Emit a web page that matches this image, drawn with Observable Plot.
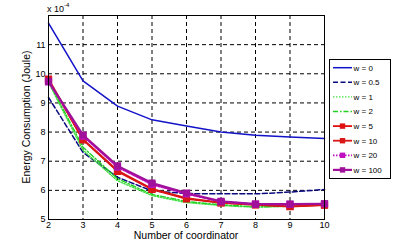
<!DOCTYPE html>
<html>
<head>
<meta charset="utf-8">
<script src="https://cdn.jsdelivr.net/npm/d3@7"></script>
<script src="https://cdn.jsdelivr.net/npm/@observablehq/plot@0.6"></script>
<style>
  html, body { margin: 0; padding: 0; background: #fff; }
  #chart { position: relative; width: 399px; height: 241px; }
  svg { font-family: "Liberation Sans", Arial, sans-serif; }
</style>
</head>
<body>
<div id="chart"></div>
<script>
// Number of coordinators
const coordinators = [2, 3, 4, 5, 6, 7, 8, 9, 10];
// Energy consumption (x 10^-4 Joule) per weight w
const w0   = [11.74, 9.76, 8.89, 8.42, 8.21, 8.00, 7.89, 7.83, 7.78];
const w05  = [9.19, 7.30, 6.45, 5.98, 5.89, 5.88, 5.88, 5.94, 6.03];
const w1   = [9.70, 7.38, 6.33, 5.82, 5.58, 5.48, 5.42, 5.45, 5.50];
const w2   = [9.75, 7.48, 6.40, 5.86, 5.62, 5.50, 5.44, 5.46, 5.51];
const w5   = [9.80, 7.73, 6.65, 6.03, 5.71, 5.57, 5.50, 5.44, 5.49];
const w10  = [9.82, 7.75, 6.68, 6.05, 5.73, 5.58, 5.51, 5.45, 5.50];
const w20  = [9.72, 7.86, 6.80, 6.20, 5.88, 5.61, 5.53, 5.52, 5.54];
const w100 = [9.74, 7.90, 6.84, 6.25, 5.91, 5.62, 5.53, 5.53, 5.54];
const yTicks = [5, 6, 7, 8, 9, 10, 11];
const seriesNames = ["w = 0", "w = 0.5", "w = 1", "w = 2", "w = 5", "w = 10", "w = 20", "w = 100"];
const seriesValues = [w0, w05, w1, w2, w5, w10, w20, w100];

const styles = {
  "w = 0":   {stroke: "#1212c8", width: 1.5, dash: null,      marker: false},
  "w = 0.5": {stroke: "#0a0a80", width: 1.5, dash: "5,2.5",   marker: false},
  "w = 1":   {stroke: "#44e044", width: 1.4, dash: "1.5,1.5", marker: false},
  "w = 2":   {stroke: "#22d022", width: 1.4, dash: "5,2,1.5,2", marker: false},
  "w = 5":   {stroke: "#e01010", width: 1.8, dash: null,      marker: true},
  "w = 10":  {stroke: "#d81818", width: 1.8, dash: null,      marker: true},
  "w = 20":  {stroke: "#c010c0", width: 1.8, dash: "1.5,1.5", marker: true},
  "w = 100": {stroke: "#a0109a", width: 2.2, dash: null,      marker: true}
};

const rows = [];
seriesNames.forEach((name, i) => {
  coordinators.forEach((c, j) => rows.push({series: name, x: c, y: seriesValues[i][j]}));
});

const marks = [
  Plot.gridX(coordinators, {stroke: "#000", strokeOpacity: 1, strokeWidth: 1, strokeDasharray: "4,3"}),
  Plot.gridY(yTicks, {stroke: "#000", strokeOpacity: 1, strokeWidth: 1, strokeDasharray: "4,3"}),
  Plot.axisX(coordinators, {tickSize: 0, tickPadding: 2, fontSize: 9, label: null, tickFormat: d => String(d)}),
  Plot.axisY(yTicks, {tickSize: 0, tickPadding: 3, fontSize: 9, label: null, tickFormat: d => String(d)})
];
seriesNames.forEach(name => {
  const s = styles[name];
  const data = rows.filter(r => r.series === name);
  marks.push(Plot.line(data, {x: "x", y: "y", stroke: s.stroke, strokeWidth: s.width, strokeDasharray: s.dash || undefined}));
  if (s.marker) {
    marks.push(Plot.dot(data, {x: "x", y: "y", symbol: "square", r: 3.2, fill: s.stroke, stroke: s.stroke}));
  }
});
marks.push(Plot.frame({stroke: "#000", strokeWidth: 1}));

const chart = Plot.plot({
  width: 399,
  height: 241,
  marginLeft: 48,
  marginRight: 75,
  marginTop: 15,
  marginBottom: 22,
  style: {fontFamily: "'Liberation Sans', Arial, sans-serif", fontSize: "10px", color: "#000", background: "#fff"},
  x: {domain: [2, 10]},
  y: {domain: [5, 12]},
  marks
});

const svg = d3.select(chart);
// axis titles
svg.append("text")
  .attr("x", 186).attr("y", 239)
  .attr("text-anchor", "middle")
  .attr("font-size", 10.5).attr("fill", "#000")
  .text("Number of coordinator");
svg.append("text")
  .attr("transform", "translate(30,117) rotate(-90)")
  .attr("text-anchor", "middle")
  .attr("font-size", 10.5).attr("fill", "#000")
  .text("Energy Consumption (Joule)");
const exp = svg.append("text").attr("x", 47).attr("y", 12).attr("text-anchor", "start")
  .attr("font-size", 9).attr("fill", "#000");
exp.append("tspan").text("x 10");
exp.append("tspan").attr("dy", -5).attr("font-size", 6).text("-4");

// legend
const lg = svg.append("g").attr("text-anchor", "start");
lg.append("rect").attr("x", 329.5).attr("y", 59.5).attr("width", 61).attr("height", 119)
  .attr("fill", "#fff").attr("stroke", "#000").attr("stroke-width", 1);
seriesNames.forEach((name, i) => {
  const s = styles[name];
  const yy = 67.7 + i * 14.6;
  lg.append("line").attr("x1", 333).attr("x2", 352).attr("y1", yy).attr("y2", yy)
    .attr("stroke", s.stroke).attr("stroke-width", s.width)
    .attr("stroke-dasharray", s.dash || null);
  if (s.marker) {
    lg.append("rect").attr("x", 339.8).attr("y", yy - 2.7).attr("width", 5.4).attr("height", 5.4)
      .attr("fill", s.stroke);
  }
  lg.append("text").attr("x", 353.5).attr("y", yy).attr("dy", "0.35em")
    .attr("text-anchor", "start")
    .attr("font-size", 8).attr("fill", "#000").text(name);
});

document.getElementById("chart").appendChild(chart);
</script>
</body>
</html>
